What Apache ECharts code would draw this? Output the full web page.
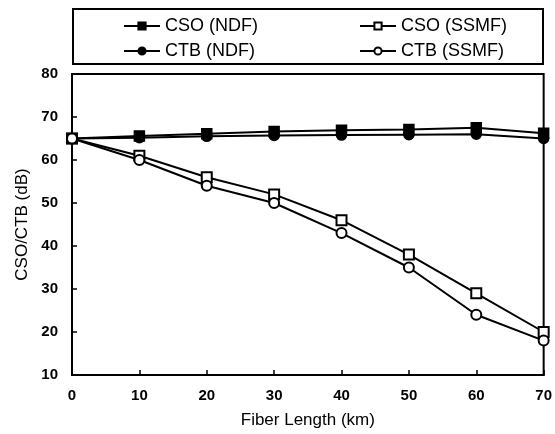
<!DOCTYPE html>
<html><head><meta charset="utf-8">
<script src="https://cdn.jsdelivr.net/npm/echarts@6/dist/echarts.min.js"></script>
<style>html,body{margin:0;padding:0;background:#fff}#c{width:555px;height:434px}</style>
</head><body><div id="c"></div>
<script>
var lengths = [0, 10, 20, 30, 40, 50, 60, 70];
var csoNDF  = [65, 65.6, 66.1, 66.6, 66.9, 67.1, 67.5, 66.2];
var ctbNDF  = [65, 65.2, 65.5, 65.7, 65.8, 65.9, 66.0, 65.0];
var csoSSMF = [65, 61, 56, 52, 46, 38, 29, 20];
var ctbSSMF = [65, 60, 54, 50, 43, 35, 24, 18];
var names = ['CSO (NDF)', 'CSO (SSMF)', 'CTB (NDF)', 'CTB (SSMF)'];

function pairs(v){ return lengths.map(function(x,i){ return [x, v[i]]; }); }
var font = '"Liberation Sans", Arial, sans-serif';
function mk(name, data, sym){
  return { name: name, type: 'line', data: pairs(data), symbol: sym, symbolSize: 10,
    showAllSymbol: true, lineStyle: { color: '#000', width: 2 },
    itemStyle: { color: '#000', borderColor: '#000', borderWidth: 1.5 },
    emphasis: { disabled: true }, z: 3 };
}
var legTxt = { fontFamily: font, fontSize: 18, color: '#000' };
var chart = echarts.init(document.getElementById('c'));
chart.setOption({
  animation: false,
  backgroundColor: '#fff',
  graphic: [{ type: 'rect', shape: { x: 73, y: 9, width: 470, height: 55 },
    style: { fill: 'none', stroke: '#000', lineWidth: 2 } }],
  legend: [
    { data: [names[0], names[2]], orient: 'vertical', left: 118, top: 12, itemGap: 7, itemWidth: 36, itemHeight: 9,
      textStyle: legTxt },
    { data: [names[1], names[3]], orient: 'vertical', left: 354, top: 12, itemGap: 7, itemWidth: 36, itemHeight: 9,
      textStyle: legTxt }
  ],
  grid: { left: 72, right: 8, top: 74, bottom: 56, show: true, borderColor: '#000', borderWidth: 2, backgroundColor: 'transparent' },
  xAxis: { type: 'value', min: 0, max: 70, interval: 10,
    name: 'Fiber Length (km)', nameLocation: 'middle', nameGap: 37,
    nameTextStyle: { fontFamily: font, fontSize: 17, color: '#000' },
    axisLine: { lineStyle: { color: '#000', width: 2 } },
    axisTick: { inside: true, length: 5, lineStyle: { color: '#000', width: 1.5 } },
    axisLabel: { fontFamily: font, fontSize: 15, fontWeight: 'bold', color: '#000', margin: 13 },
    splitLine: { show: false } },
  yAxis: { type: 'value', min: 10, max: 80, interval: 10,
    name: 'CSO/CTB (dB)', nameLocation: 'middle', nameGap: 38,
    nameTextStyle: { fontFamily: font, fontSize: 17, color: '#000' },
    axisLine: { lineStyle: { color: '#000', width: 2 } },
    axisTick: { inside: true, length: 5, lineStyle: { color: '#000', width: 1.5 } },
    axisLabel: { fontFamily: font, fontSize: 15, fontWeight: 'bold', color: '#000', margin: 14 },
    splitLine: { show: false } },
  series: [
    mk(names[0], csoNDF, 'rect'),
    mk(names[1], csoSSMF, 'emptyRect'),
    mk(names[2], ctbNDF, 'circle'),
    mk(names[3], ctbSSMF, 'emptyCircle')
  ]
});
</script></body></html>
